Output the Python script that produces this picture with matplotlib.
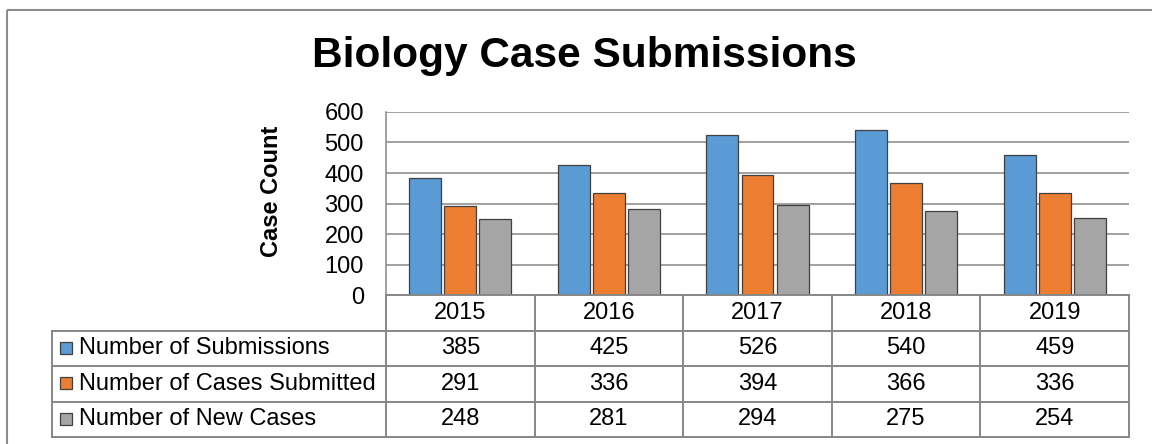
import matplotlib.pyplot as plt
import numpy as np

plt.rcParams['font.family'] = ['Liberation Sans', 'DejaVu Sans']

years = ['2015', '2016', '2017', '2018', '2019']
submissions = [385, 425, 526, 540, 459]
cases_submitted = [291, 336, 394, 366, 336]
new_cases = [248, 281, 294, 275, 254]

series_names = ['Number of Submissions', 'Number of Cases Submitted', 'Number of New Cases']
series_vals = [submissions, cases_submitted, new_cases]
colors = ['#5B9BD5', '#ED7D31', '#A5A5A5']

W, H = 1152, 444
fig = plt.figure(figsize=(W / 100, H / 100), dpi=100)

# pixel layout of the plot area
px_left, px_right, px_top, px_bottom = 386, 1129, 112, 295
grid_col = '#878787'

ax = fig.add_axes([px_left / W, 1 - px_bottom / H,
                   (px_right - px_left) / W, (px_bottom - px_top) / H])
x = np.arange(len(years))
bw, step = 0.215, 0.236
for k, (vals, c) in enumerate(zip(series_vals, colors)):
    ax.bar(x + (k - 1) * step, vals, bw, color=c, edgecolor='#404040',
           linewidth=0.9, zorder=3)
ax.set_xlim(-0.5, len(years) - 0.5)
ax.set_ylim(0, 600)
ax.set_yticks(range(0, 601, 100))
ax.yaxis.grid(True, color=grid_col, linewidth=1.1, zorder=0)
ax.set_xticks([])
ax.tick_params(axis='y', length=0, pad=16, labelsize=17)
for s in ['top', 'right', 'bottom']:
    ax.spines[s].set_visible(False)
ax.spines['left'].set_color(grid_col)
ax.spines['left'].set_linewidth(1.1)

# overlay in pixel coords for table, title, border
ov = fig.add_axes([0, 0, 1, 1], zorder=-1)
ov.set_xlim(0, W)
ov.set_ylim(H, 0)
ov.axis('off')
ov2 = fig.add_axes([0, 0, 1, 1])
ov2.set_xlim(0, W)
ov2.set_ylim(H, 0)
ov2.axis('off')
ov2.patch.set_alpha(0)

# outer chart border
ov.add_patch(plt.Rectangle((7, 10), W, H, fill=False, edgecolor='#8c8c8c', linewidth=1.5))

ov2.text(584, 56, 'Biology Case Submissions', fontsize=30.5, fontweight='bold',
         ha='center', va='center')
ov2.text(272, 191, 'Case Count', fontsize=17, fontweight='bold',
         rotation=90, ha='center', va='center')

col_w = (px_right - px_left) / len(years)
col_edges = [px_left + i * col_w for i in range(len(years) + 1)]
row_edges = [295, 330.5, 366, 401.5, 437]
tbl_left = 52
lw = 1.4

# horizontal lines
ov2.plot([px_left, px_right], [row_edges[0]] * 2, color=grid_col, lw=lw)
for y in row_edges[1:]:
    ov2.plot([tbl_left, px_right], [y, y], color=grid_col, lw=lw)
# vertical lines
for xe in col_edges:
    ov2.plot([xe, xe], [row_edges[0], row_edges[-1]], color=grid_col, lw=lw)
ov2.plot([tbl_left, tbl_left], [row_edges[1], row_edges[-1]], color=grid_col, lw=lw)

for i, yr in enumerate(years):
    xc = (col_edges[i] + col_edges[i + 1]) / 2
    ov2.text(xc, (row_edges[0] + row_edges[1]) / 2, yr, fontsize=17,
             ha='center', va='center')
for r, (name, vals, c) in enumerate(zip(series_names, series_vals, colors)):
    yc = (row_edges[r + 1] + row_edges[r + 2]) / 2
    ov2.add_patch(plt.Rectangle((60, yc - 6.5), 12, 12, facecolor=c,
                                edgecolor='#404040', linewidth=0.9))
    ov2.text(79, yc, name, fontsize=17, ha='left', va='center')
    for i, v in enumerate(vals):
        xc = (col_edges[i] + col_edges[i + 1]) / 2
        ov2.text(xc, yc, str(v), fontsize=17, ha='center', va='center')

fig.savefig('out.png', dpi=100)
